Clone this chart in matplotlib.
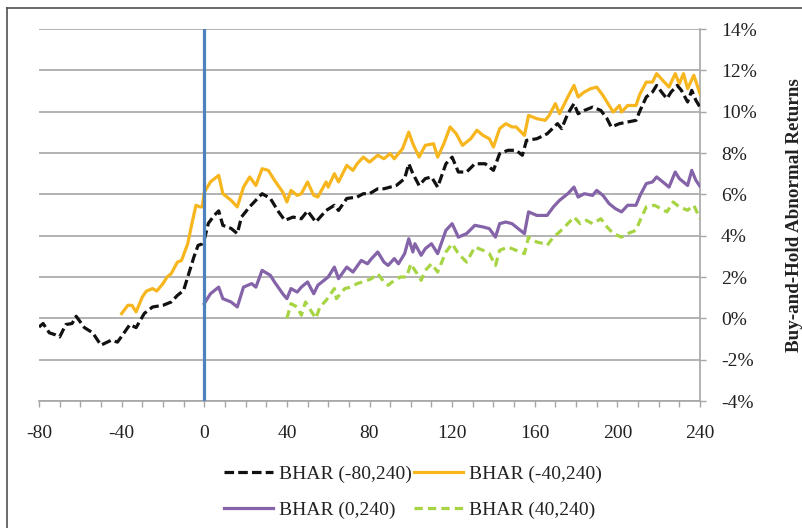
import matplotlib
matplotlib.use("Agg")
import matplotlib.pyplot as plt
from matplotlib.ticker import MultipleLocator, FuncFormatter
from matplotlib.lines import Line2D

plt.rcParams['font.family'] = ['Liberation Serif', 'DejaVu Serif']
plt.rcParams['axes.unicode_minus'] = False

# ---- data (event day, BHAR in %) ----
days_m80 = [-80, -78, -75, -72, -70, -67, -64, -62, -58, -54, -50, -48, -45, -42, -39, -36, -33, -29,
            -25, -20, -16, -13, -10, -8, -5, -3, -1, 0, 2, 5, 7, 9, 13, 16, 18, 22, 28, 32, 36, 39, 43,
            47, 50, 54, 59, 63, 65, 69, 74, 77, 80, 84, 87, 93, 97, 99, 101, 104, 107, 110, 113, 117,
            120, 123, 127, 131, 136, 140, 143, 147, 151, 154, 156, 161, 166, 171, 173, 176, 179, 181,
            184, 188, 192, 195, 197, 201, 205, 209, 211, 214, 217, 219, 222, 224, 226, 229, 231, 234,
            236, 238, 240]
bhar_m80 = [-0.42, -0.25, -0.70, -0.80, -0.90, -0.30, -0.25, 0.10, -0.45, -0.70, -1.30, -1.20, -1.06,
            -1.15, -0.73, -0.30, -0.45, 0.24, 0.55, 0.63, 0.79, 1.11, 1.35, 2.00, 2.97, 3.53, 3.60, 3.80,
            4.60, 5.00, 5.20, 4.50, 4.35, 4.10, 4.90, 5.40, 6.03, 5.80, 5.15, 4.74, 4.90, 4.82, 5.20,
            4.66, 5.22, 5.47, 5.22, 5.80, 5.87, 6.03, 6.03, 6.27, 6.27, 6.43, 6.76, 7.48, 7.00, 6.43,
            6.76, 6.84, 6.35, 7.48, 7.80, 7.08, 7.08, 7.48, 7.48, 7.16, 7.97, 8.13, 8.13, 7.89, 8.61,
            8.69, 8.93, 9.42, 9.18, 9.90, 10.39, 9.90, 10.06, 10.22, 10.06, 9.66, 9.26, 9.42, 9.50,
            9.58, 10.06, 10.71, 10.95, 11.27, 10.87, 10.63, 10.95, 11.27, 11.03, 10.47, 11.03, 10.55,
            10.22]

days_m40 = [-40, -37, -35, -33, -30, -28, -25, -23, -20, -18, -16, -13, -11, -8, -6, -4, -2, -1, 0, 3,
            7, 9, 13, 16, 19, 22, 25, 28, 31, 34, 38, 40, 42, 45, 47, 50, 53, 55, 59, 60, 63, 65, 69,
            72, 74, 77, 80, 84, 87, 90, 92, 96, 99, 101, 104, 107, 111, 113, 116, 119, 122, 125, 129,
            132, 135, 138, 140, 143, 146, 149, 151, 155, 157, 161, 165, 167, 170, 172, 176, 179, 181,
            184, 187, 190, 193, 196, 198, 201, 202, 205, 209, 211, 214, 217, 219, 222, 225, 228, 230,
            232, 234, 237, 240]
bhar_m40 = [0.23, 0.63, 0.63, 0.31, 1.03, 1.32, 1.44, 1.32, 1.68, 2.00, 2.16, 2.72, 2.80, 3.61, 4.58,
            5.47, 5.39, 5.40, 6.10, 6.60, 6.92, 6.03, 5.71, 5.39, 6.35, 6.84, 6.43, 7.24, 7.16, 6.68,
            6.11, 5.63, 6.19, 5.95, 6.03, 6.60, 5.95, 5.87, 6.60, 6.35, 7.00, 6.60, 7.40, 7.16, 7.48,
            7.80, 7.56, 7.89, 7.72, 7.97, 7.72, 8.21, 9.01, 8.45, 7.80, 8.37, 8.45, 7.80, 8.45, 9.26,
            8.93, 8.37, 8.69, 9.10, 8.85, 8.69, 8.29, 9.18, 9.42, 9.26, 9.26, 8.85, 9.82, 9.66, 9.58,
            9.82, 10.39, 9.90, 10.71, 11.27, 10.71, 10.95, 11.11, 11.19, 10.79, 10.30, 9.98, 10.30,
            9.98, 10.30, 10.30, 10.87, 11.43, 11.43, 11.84, 11.51, 11.19, 11.84, 11.35, 11.84, 11.11,
            11.76, 10.87]

days_0 = [0, 3, 7, 9, 13, 16, 19, 23, 25, 28, 32, 34, 38, 40, 42, 45, 47, 50, 53, 55, 58, 60, 63, 65,
          69, 72, 76, 79, 81, 84, 87, 89, 92, 94, 97, 99, 101, 102, 105, 107, 110, 113, 117, 120, 123,
          127, 131, 135, 138, 141, 143, 146, 149, 151, 155, 157, 161, 166, 169, 172, 176, 179, 181,
          184, 188, 190, 193, 196, 199, 202, 205, 209, 211, 214, 217, 219, 222, 225, 228, 230, 234,
          236, 238, 240]
bhar_0 = [0.71, 1.19, 1.51, 0.95, 0.79, 0.55, 1.51, 1.68, 1.51, 2.32, 2.08, 1.76, 1.19, 0.95, 1.44,
          1.27, 1.51, 1.76, 1.19, 1.60, 1.84, 2.00, 2.48, 1.92, 2.48, 2.24, 2.80, 2.64, 2.89, 3.21,
          2.72, 2.56, 2.89, 2.64, 3.13, 3.85, 3.21, 3.61, 3.05, 3.37, 3.61, 3.13, 4.26, 4.58, 3.93,
          4.10, 4.50, 4.42, 4.34, 3.93, 4.58, 4.66, 4.58, 4.42, 4.10, 5.15, 4.98, 4.98, 5.39, 5.71,
          6.03, 6.35, 5.87, 6.03, 5.95, 6.19, 5.95, 5.55, 5.31, 5.15, 5.47, 5.47, 5.95, 6.52, 6.60,
          6.84, 6.60, 6.35, 7.08, 6.76, 6.43, 7.16, 6.68, 6.39]

days_40 = [40, 42, 45, 47, 49, 51, 54, 56, 59, 63, 64, 68, 71, 74, 79, 81, 84, 87, 89, 92, 95, 98,
           100, 102, 105, 107, 110, 113, 117, 120, 123, 127, 131, 135, 138, 141, 143, 147, 151, 155,
           157, 161, 165, 166, 169, 172, 176, 179, 182, 185, 188, 192, 195, 198, 202, 205, 209, 211,
           214, 218, 221, 224, 227, 230, 234, 237, 240]
bhar_40 = [0.00, 0.71, 0.55, 0.15, 0.79, 0.47, 0.00, 0.55, 0.87, 1.44, 0.95, 1.44, 1.51, 1.68, 1.84,
           1.92, 2.16, 1.76, 1.60, 1.84, 2.00, 2.00, 2.64, 2.32, 1.84, 2.32, 2.64, 2.24, 3.21, 3.61,
           3.13, 2.72, 3.45, 3.29, 3.13, 2.56, 3.29, 3.45, 3.29, 3.13, 3.93, 3.69, 3.60, 3.53, 3.93,
           4.18, 4.58, 4.90, 4.58, 4.74, 4.58, 4.82, 4.42, 4.10, 3.93, 4.10, 4.26, 4.74, 5.39, 5.47,
           5.31, 5.15, 5.63, 5.39, 5.23, 5.47, 4.82]

labels = ["BHAR (-80,240)", "BHAR (-40,240)", "BHAR (0,240)", "BHAR (40,240)"]
event_day = 0

# ---- figure ----
W, H = 803, 528
fig = plt.figure(figsize=(W / 100, H / 100), dpi=100)
ax = fig.add_axes([39 / W, 1 - 401 / H, (700 - 39) / W, (401 - 29) / H])

grid_c = "#a6a6a6"
lw = 2.3
l1, = ax.plot(days_m80, bhar_m80, color="#111111", lw=lw, dashes=(3.0, 1.3), label=labels[0], zorder=4)
l2, = ax.plot(days_m40, bhar_m40, color="#F7B61E", lw=lw, label=labels[1], zorder=3)
l3, = ax.plot(days_0, bhar_0, color="#8463A8", lw=lw, label=labels[2], zorder=3)
l4, = ax.plot(days_40, bhar_40, color="#A6D443", lw=lw, dashes=(2.6, 1.6), label=labels[3], zorder=3)

ax.axvline(event_day, color="#4F81BD", lw=2.3, zorder=5)

ax.set_xlim(-80, 240)
ax.set_ylim(-4, 14)
ax.xaxis.set_major_locator(MultipleLocator(40))
ax.xaxis.set_minor_locator(MultipleLocator(10))
ax.xaxis.set_major_formatter(FuncFormatter(lambda v, p: f"{v:.0f}"))
ax.yaxis.set_major_locator(MultipleLocator(2))
ax.yaxis.set_major_formatter(FuncFormatter(lambda v, p: f"{v:.0f}%"))
ax.yaxis.tick_right()

ax.grid(axis="y", color=grid_c, lw=1.2, zorder=0)
for s in ["top", "left"]:
    ax.spines[s].set_visible(False)
for s in ["bottom", "right"]:
    ax.spines[s].set_color(grid_c)
    ax.spines[s].set_linewidth(1.2)

ax.tick_params(axis="x", which="both", direction="out", length=4, width=1.0, color=grid_c,
               labelsize=14, pad=13)
ax.tick_params(axis="y", which="both", direction="out", length=4, width=1.0, color=grid_c,
               labelsize=14, pad=11)
for t in ax.get_xticklabels() + ax.get_yticklabels():
    t.set_color("#222222")

ax.set_ylabel("Buy-and-Hold Abnormal Returns", fontsize=13.7, fontweight="bold", color="#222222")
ax.yaxis.set_label_position("right")
ax.yaxis.set_label_coords((786 - 39) / 661, 0.5)

leg = fig.legend(handles=[l1, l3, l2, l4], loc="center", ncol=2, frameon=False, fontsize=14,
                 bbox_to_anchor=(413 / W, 1 - 492 / H), handlelength=2.5, handletextpad=0.3,
                 columnspacing=0.15, labelspacing=0.95)
for t in leg.get_texts():
    t.set_color("#222222")

# outer chart border (partially visible)
fig.add_artist(Line2D([7 / W, 7 / W], [0, 1 - 8 / H], transform=fig.transFigure, color="#505050", lw=1.2))
fig.add_artist(Line2D([7 / W, 1], [1 - 8 / H, 1 - 8 / H], transform=fig.transFigure, color="#505050", lw=1.2))

fig.savefig("out.png", dpi=100)
